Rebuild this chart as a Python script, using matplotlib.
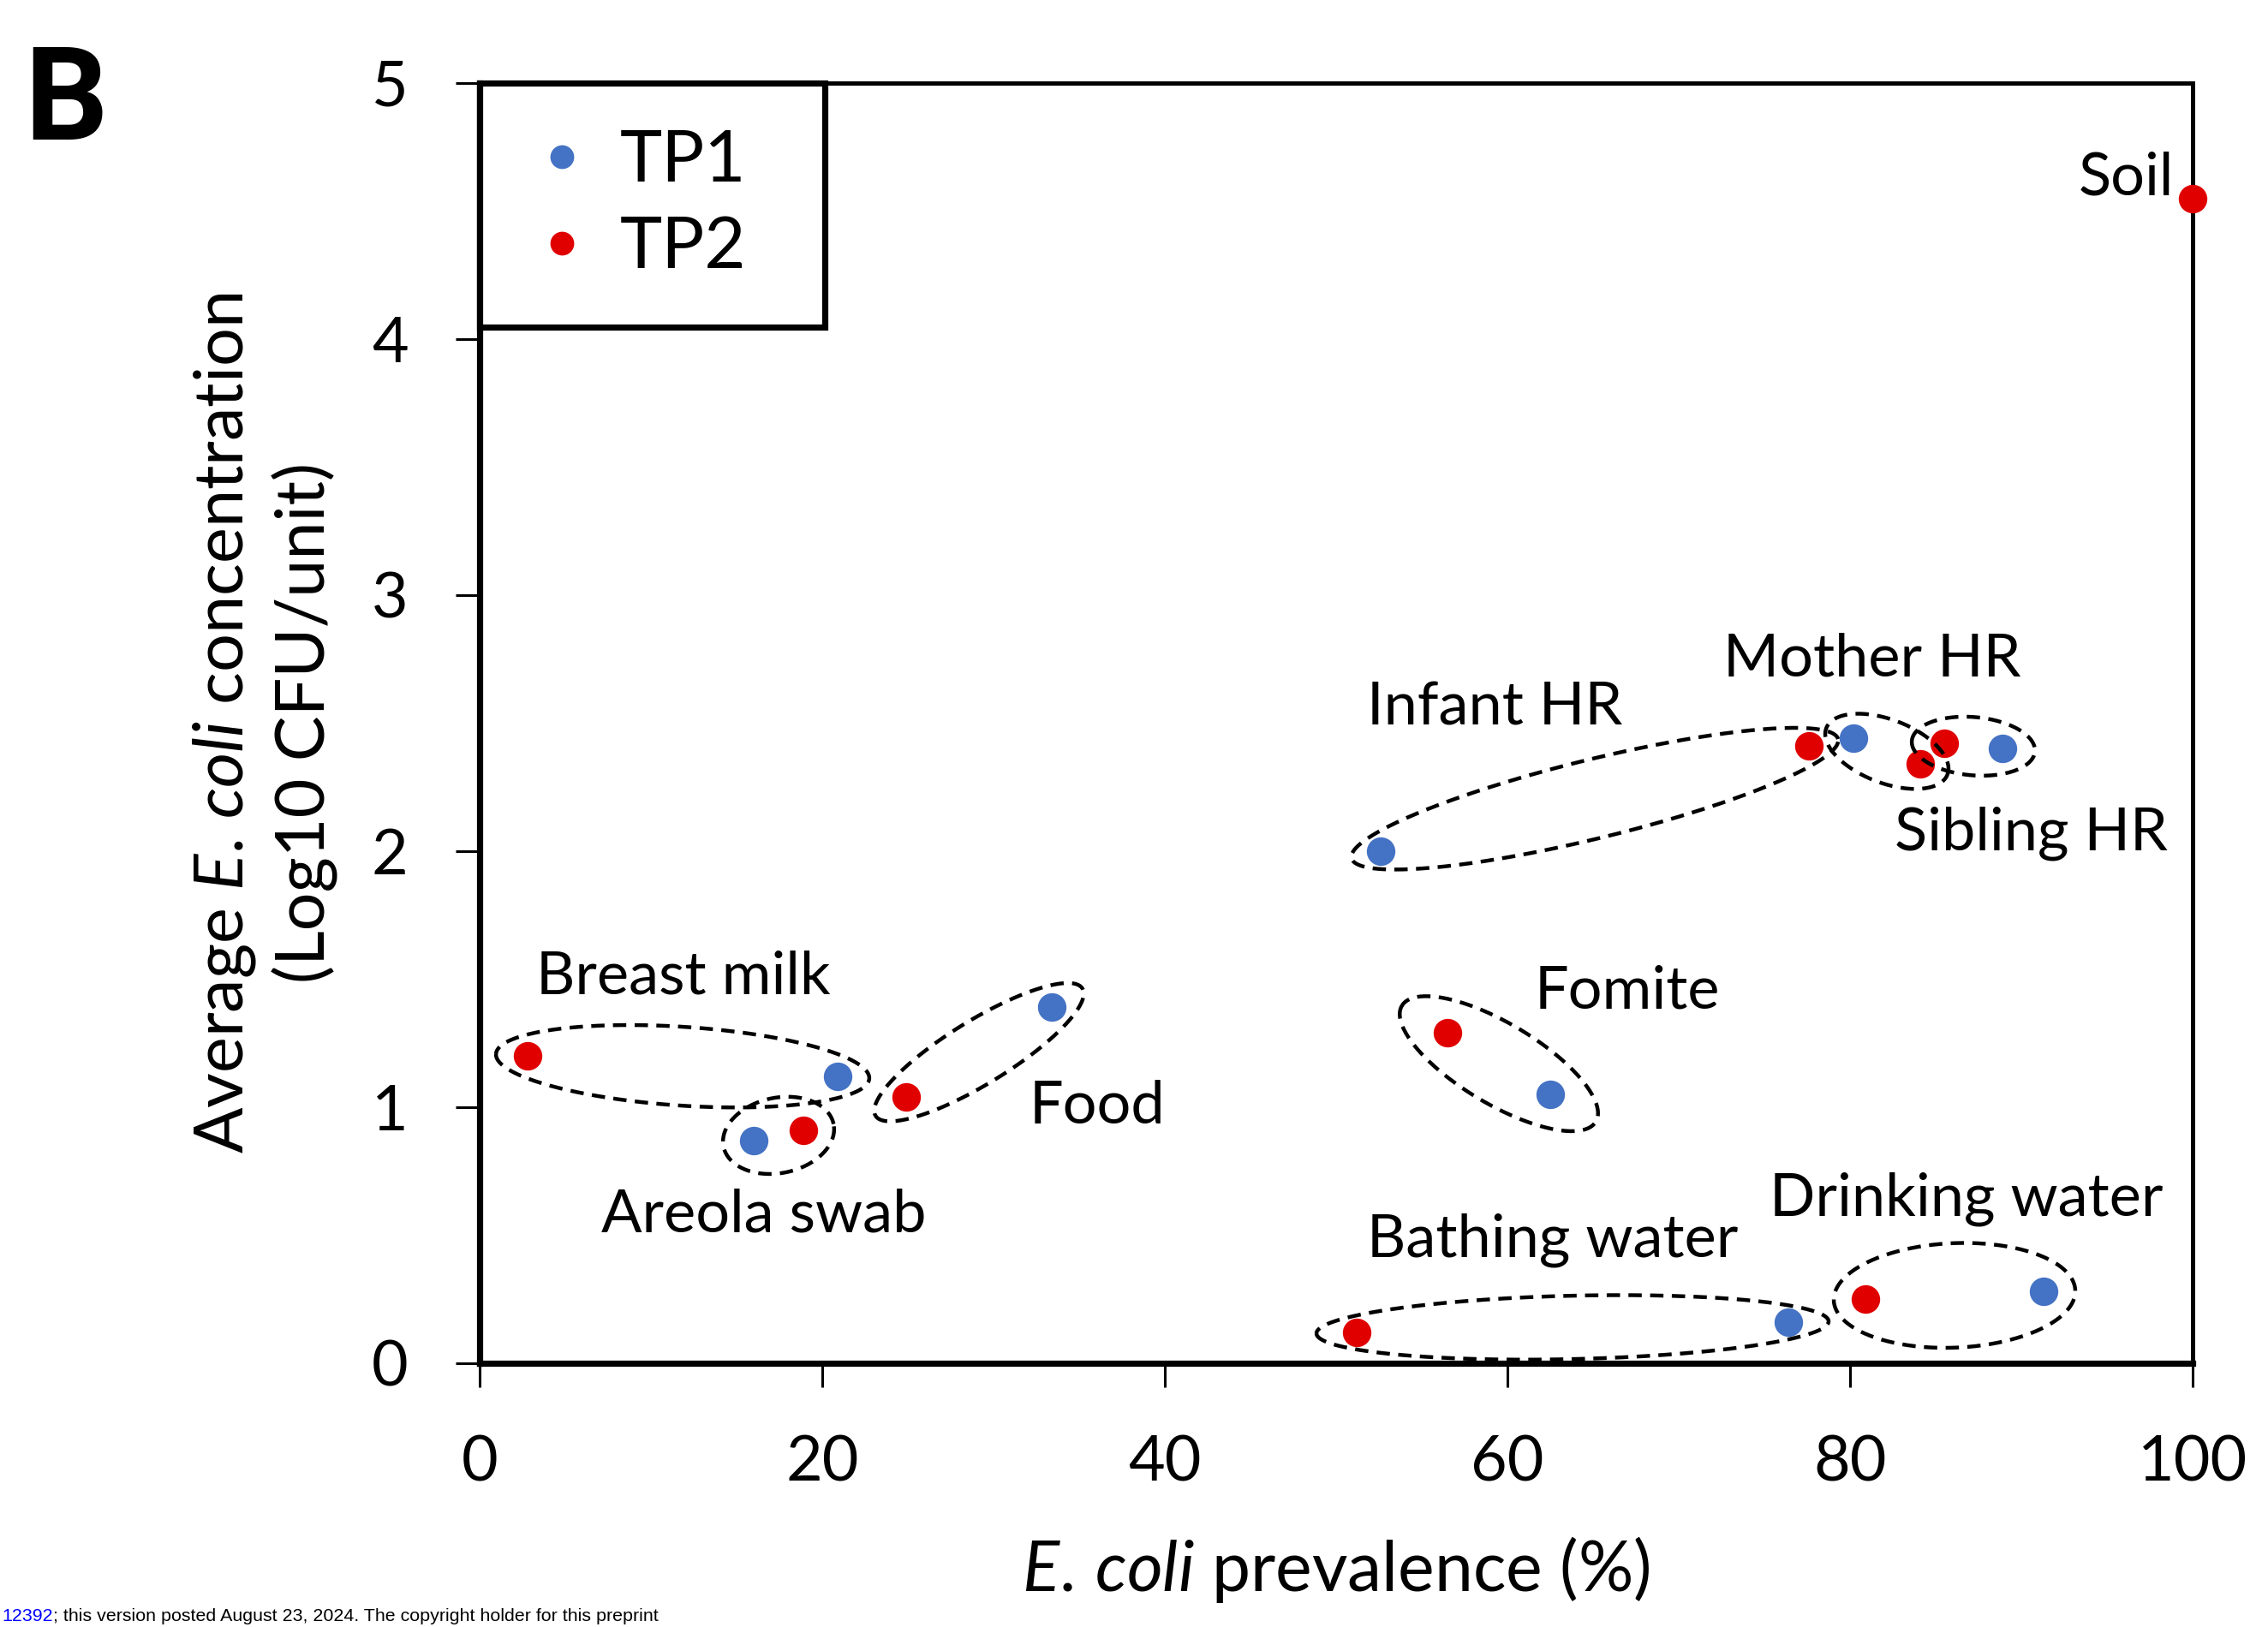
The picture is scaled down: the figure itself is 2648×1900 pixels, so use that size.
import numpy as np
import matplotlib
matplotlib.use("Agg")
import matplotlib.pyplot as plt
from matplotlib.lines import Line2D

plt.rcParams['font.family'] = ['Lato', 'DejaVu Sans']
plt.rcParams['mathtext.fontset'] = 'custom'
plt.rcParams['mathtext.rm'] = 'Lato'
plt.rcParams['mathtext.it'] = 'Lato:italic'

# sample groups, one TP1 and one TP2 value each (Soil only has TP2)
groups = ["Breast milk", "Areola swab", "Food", "Fomite", "Infant HR",
          "Mother HR", "Sibling HR", "Bathing water", "Drinking water", "Soil"]
tp1_prev = [20.9, 16.0, 33.4, 62.5, 52.6, 80.2, 88.9, 76.4, 91.3, np.nan]
tp1_conc = [1.12, 0.87, 1.39, 1.05, 2.00, 2.44, 2.40, 0.16, 0.28, np.nan]
tp2_prev = [2.8, 18.9, 24.9, 56.5, 77.6, 84.1, 85.5, 51.2, 80.9, 100.0]
tp2_conc = [1.20, 0.91, 1.04, 1.29, 2.41, 2.34, 2.42, 0.12, 0.25, 4.55]

# label placement (data coords) and alignment
label_x = [3.3, 7.1, 32.1, 61.6, 51.8, 72.6, 82.6, 51.8, 75.3, 98.9]
label_y = [1.51, 0.58, 1.00, 1.45, 2.56, 2.75, 2.07, 0.48, 0.64, 4.63]
label_ha = ["left"] * 9 + ["right"]

# ellipse padding along the pair axis / half-width across it (pixels)
ell_pad = [37, 36, 42, 62, 35, 34, 38, 47, 37]
ell_minor = [46, 44, 37, 47, 46, 37, 34, 37, 61]

blue = "#4472C4"
red = "#E00000"

fig = plt.figure(figsize=(13.24, 9.5), dpi=200)
ax = fig.add_axes([0.21148, 0.16211, 0.75529, 0.78684])
ax.set_xlim(0, 100)
ax.set_ylim(0, 5)
ax.set_xticks([0, 20, 40, 60, 80, 100])
ax.set_yticks([0, 1, 2, 3, 4, 5])

ax.plot(tp1_prev, tp1_conc, 'o', color=blue, ms=12, mew=0, zorder=4, clip_on=False)
ax.plot(tp2_prev, tp2_conc, 'o', color=red, ms=12, mew=0, zorder=4, clip_on=False)

# dashed ellipses around each TP1/TP2 pair, built in pixel space
t = np.linspace(0, 2 * np.pi, 300)
for i in range(9):
    p1 = ax.transData.transform((tp1_prev[i], tp1_conc[i]))
    p2 = ax.transData.transform((tp2_prev[i], tp2_conc[i]))
    c = (p1 + p2) / 2
    d = p2 - p1
    half = np.hypot(*d) / 2
    u = d / (2 * half)
    v = np.array([-u[1], u[0]])
    a = half + ell_pad[i]
    b = ell_minor[i]
    pts = c + np.outer(a * np.cos(t), u) + np.outer(b * np.sin(t), v)
    dat = ax.transData.inverted().transform(pts)
    ax.plot(dat[:, 0], dat[:, 1], color='black', lw=1.6, ls=(0, (3.5, 2.2)),
            zorder=5, clip_on=False)

for i, g in enumerate(groups):
    ax.text(label_x[i], label_y[i], g, ha=label_ha[i], va='center',
            fontsize=25.3, zorder=6)

for side in ['left', 'bottom']:
    ax.spines[side].set_linewidth(2.6)
for side in ['top', 'right']:
    ax.spines[side].set_linewidth(1.8)
ax.tick_params(direction='out', length=10, width=1.1, labelsize=26.5, pad=20)

ax.set_xlabel(r"$\mathit{E.\,coli}$ prevalence (%)", fontsize=29, labelpad=18)
ax.set_ylabel("Average $\\mathit{E.\\,coli}$ concentration\n(Log10 CFU/unit)",
              fontsize=28.5, linespacing=1.25)
ax.yaxis.set_label_coords(-0.0825, 0.5)

handles = [Line2D([], [], ls='none', marker='o', color=blue, ms=10, mew=0),
           Line2D([], [], ls='none', marker='o', color=red, ms=10, mew=0)]
leg = ax.legend(handles, ["TP1", "TP2"], loc='upper left',
                bbox_to_anchor=(0, 1, 0.2015, 0), mode='expand', borderaxespad=0,
                fancybox=False, edgecolor='black', fontsize=30, framealpha=1,
                handlelength=1.0, handletextpad=0.31, borderpad=0.65,
                labelspacing=0.3)
leg.get_frame().set_linewidth(2.6)
leg.set_zorder(10)

fig.text(28 / 2648, 1 - 163 / 1900, "B", fontsize=55, fontweight='bold',
         family=['Roboto', 'Liberation Sans'], ha='left', va='baseline')

t1 = fig.text(2 / 2648, 3 / 1900, "12392", color='blue', fontsize=7.7,
              family='Liberation Sans', ha='left', va='bottom')
ax.annotate("; this version posted August 23, 2024. The copyright holder for this preprint",
            xy=(1, 0), xycoords=t1, ha='left', va='bottom', fontsize=7.7,
            family='Liberation Sans', annotation_clip=False)

fig.savefig("out.png", dpi=200)
